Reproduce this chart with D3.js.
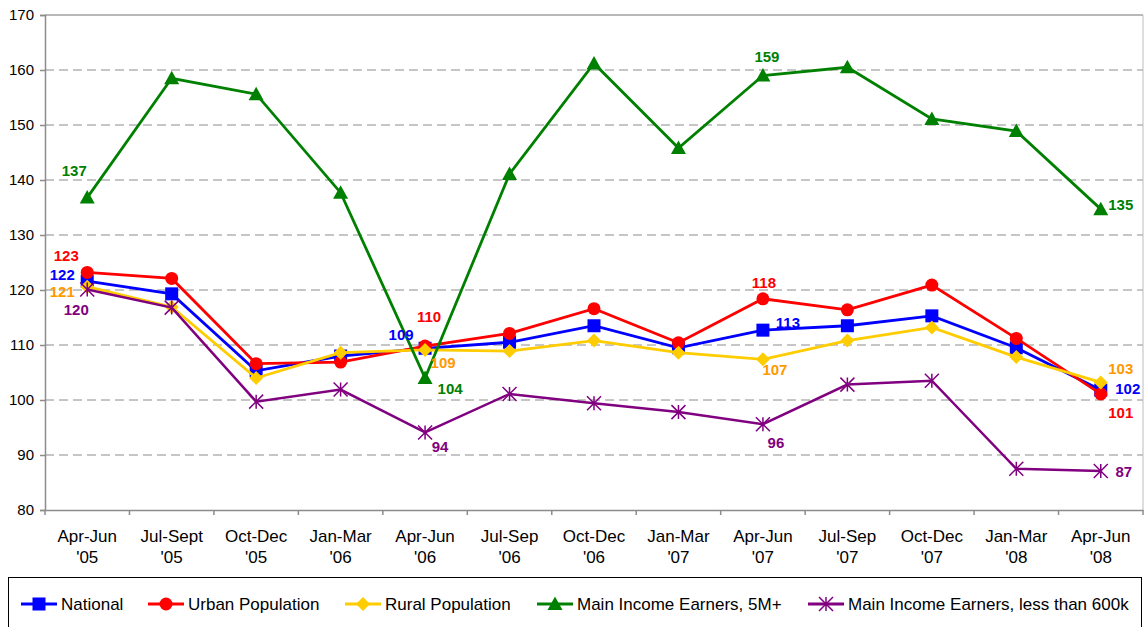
<!DOCTYPE html>
<html><head><meta charset="utf-8">
<script src="https://cdn.jsdelivr.net/npm/d3@7"></script>
<style>body{margin:0;background:#fff;}svg{display:block;font-family:"Liberation Sans",Arial,sans-serif;}</style>
</head><body><svg id="c" width="1145" height="627"></svg>
<script>
const categories = [["Apr-Jun","'05"],["Jul-Sept","'05"],["Oct-Dec","'05"],["Jan-Mar","'06"],["Apr-Jun","'06"],["Jul-Sep","'06"],["Oct-Dec","'06"],["Jan-Mar","'07"],["Apr-Jun","'07"],["Jul-Sep","'07"],["Oct-Dec","'07"],["Jan-Mar","'08"],["Apr-Jun","'08"]];
const national = [121.6,119.3,105.3,108.0,109.4,110.5,113.5,109.5,112.7,113.5,115.3,109.5,101.8];
const urban    = [123.2,122.1,106.6,106.9,109.8,112.1,116.6,110.4,118.4,116.4,120.9,111.2,101.1];
const rural    = [120.6,116.9,104.0,108.6,109.1,108.9,110.8,108.6,107.4,110.8,113.2,107.8,103.2];
const high     = [136.8,158.5,155.6,137.7,104.0,141.1,161.2,145.8,159.0,160.5,151.1,148.9,134.7];
const low      = [120.1,116.8,99.7,101.9,94.1,101.1,99.4,97.8,95.6,102.8,103.5,87.5,87.1];
const yTicks = [80,90,100,110,120,130,140,150,160,170];

const series = [
  {name:"National", values:national, color:"#0000FF", label:"#0000FF", marker:"square",
   labels:[[0,-25,-7],[4,-24,-14],[8,25,-8],[12,27,-2]]},
  {name:"Urban Population", values:urban, color:"#FF0000", label:"#FF0000", marker:"circle",
   labels:[[0,-21,-17],[4,4,-30],[8,1,-16],[12,20,19]]},
  {name:"Rural Population", values:rural, color:"#FFCC00", label:"#FF9900", marker:"diamond",
   labels:[[0,-25,5],[4,18,13],[8,12,10],[12,20,-14]]},
  {name:"Main Income Earners, 5M+", values:high, color:"#008000", label:"#008000", marker:"triangle",
   labels:[[0,-13,-27],[4,25,10],[8,4,-19],[12,20,-5]]},
  {name:"Main Income Earners, less than 600k", values:low, color:"#800080", label:"#800080", marker:"star",
   labels:[[0,-11,20],[4,15,14],[8,13,18],[12,23,1]]}
];
const legendX = [21,148,345,537,808];

const svg = d3.select("#c");
const L=45, R=1143, T=15, B=510;
const x = d3.scaleBand().domain(d3.range(categories.length)).range([L,R]).padding(0);
const cx = i => x(i)+x.bandwidth()/2;
const y = d3.scaleLinear().domain([80,170]).range([B,T]);

// grid
svg.append("g").selectAll("line").data(yTicks.filter(t=>t>80&&t<170)).join("line")
  .attr("x1",L).attr("x2",R).attr("y1",d=>y(d)).attr("y2",d=>y(d))
  .attr("stroke","#8c8c8c").attr("stroke-width",1).attr("stroke-dasharray","9,5");
// frame top/right
svg.append("line").attr("x1",L).attr("x2",R).attr("y1",T).attr("y2",T).attr("stroke","#a0a0a0").attr("stroke-width",1.5);
svg.append("line").attr("x1",R).attr("x2",R).attr("y1",T).attr("y2",B).attr("stroke","#bdbdbd");

// y axis
const ya = svg.append("g").attr("transform",`translate(${L},0)`)
  .call(d3.axisLeft(y).tickValues(yTicks).tickSize(5).tickPadding(6).tickFormat(d3.format("d")));
ya.select(".domain").attr("stroke","#8c8c8c").attr("stroke-width",1.5);
ya.selectAll(".tick line").attr("stroke","#8c8c8c").attr("stroke-width",1.5);
ya.selectAll("text").attr("font-size",15).attr("fill","#000").attr("font-family","Liberation Sans, Arial, sans-serif");

// x axis
const xa = svg.append("g").attr("transform",`translate(0,${B})`)
  .call(d3.axisBottom(x).tickSize(0).tickFormat(""));
xa.select(".domain").attr("stroke","#8c8c8c").attr("stroke-width",1.5);
svg.append("g").selectAll("line").data(d3.range(categories.length+1)).join("line")
  .attr("x1",i=>L+i*x.step()).attr("x2",i=>L+i*x.step()).attr("y1",B).attr("y2",B+5)
  .attr("stroke","#8c8c8c").attr("stroke-width",1.5);
const xl = svg.append("g").selectAll("text").data(categories).join("text")
  .attr("x",(d,i)=>cx(i)).attr("y",B+32).attr("text-anchor","middle").attr("font-size",17).attr("fill","#000");
xl.append("tspan").attr("x",(d,i)=>cx(i)).text(d=>d[0]);
xl.append("tspan").attr("x",(d,i)=>cx(i)).attr("dy",21).text(d=>d[1]);

function drawMarker(g, type, color, px, py){
  if(type==="square") g.append("rect").attr("x",px-6.5).attr("y",py-6.5).attr("width",13).attr("height",13).attr("fill",color);
  else if(type==="circle") g.append("circle").attr("cx",px).attr("cy",py).attr("r",6.5).attr("fill",color);
  else if(type==="diamond") g.append("path").attr("d",`M${px},${py-7}L${px+7},${py}L${px},${py+7}L${px-7},${py}Z`).attr("fill",color);
  else if(type==="triangle") g.append("path").attr("d",`M${px},${py-7.5}L${px+7.5},${py+6}L${px-7.5},${py+6}Z`).attr("fill",color);
  else if(type==="star"){
    const r=7;
    g.append("path").attr("d",`M${px-r},${py-r}L${px+r},${py+r}M${px-r},${py+r}L${px+r},${py-r}M${px},${py-r}L${px},${py+r}`)
      .attr("stroke",color).attr("stroke-width",1.5).attr("fill","none");
  }
}

const line = d3.line().x((d,i)=>cx(i)).y(d=>y(d));
series.forEach(s=>{
  const g = svg.append("g");
  g.append("path").datum(s.values).attr("d",line).attr("fill","none").attr("stroke",s.color).attr("stroke-width",s.marker==="star"?2.5:2.8);
  s.values.forEach((v,i)=>drawMarker(g,s.marker,s.color,cx(i),y(v)));
});
series.forEach(s=>{
  s.labels.forEach(([i,dx,dy])=>{
    svg.append("text").attr("x",cx(i)+dx).attr("y",y(s.values[i])+dy+5.5).attr("text-anchor","middle")
      .attr("font-size",15).attr("font-weight","bold").attr("fill",s.label).text(Math.round(s.values[i]));
  });
});

// legend
svg.append("rect").attr("x",8.5).attr("y",577.5).attr("width",1133).attr("height",60).attr("fill","#fff").attr("stroke","#000").attr("stroke-width",1);
series.forEach((s,k)=>{
  const g = svg.append("g");
  const x0=legendX[k], ly=604;
  g.append("line").attr("x1",x0).attr("x2",x0+36).attr("y1",ly).attr("y2",ly).attr("stroke",s.color).attr("stroke-width",3);
  drawMarker(g,s.marker,s.color,x0+18,ly);
  g.append("text").attr("x",x0+40).attr("y",ly+6).attr("font-size",17).attr("fill","#000").text(s.name);
});
</script></body></html>
